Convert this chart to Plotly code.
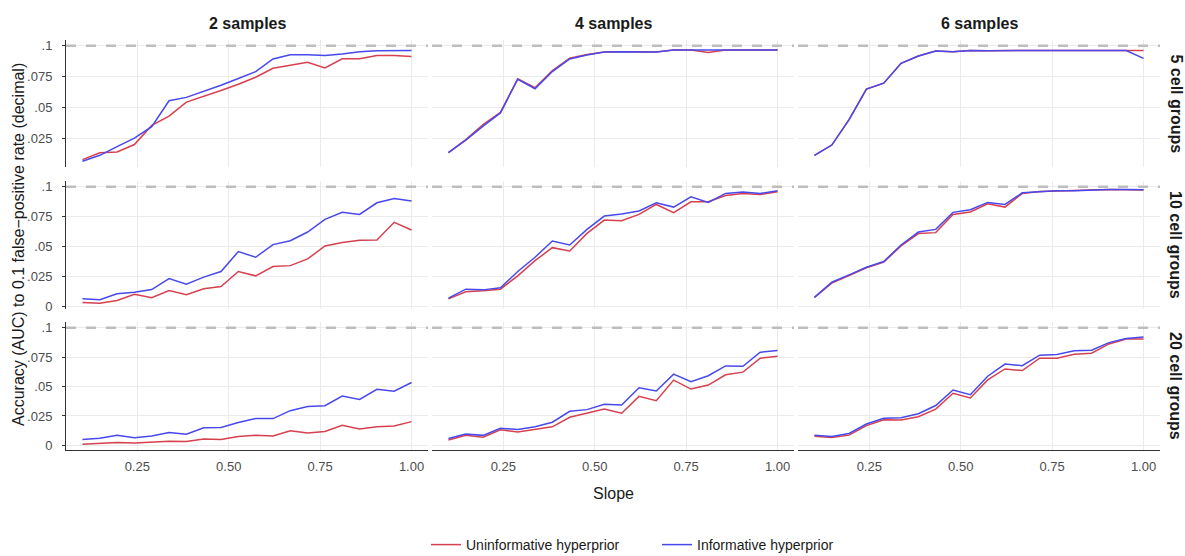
import plotly.graph_objects as go

# ---------------- data ----------------
slope = [0.1, 0.1474, 0.1947, 0.2421, 0.2895, 0.3368, 0.3842, 0.4316, 0.4789, 0.5263,
         0.5737, 0.6211, 0.6684, 0.7158, 0.7632, 0.8105, 0.8579, 0.9053, 0.9526, 1.0]

sample_labels = ["2 samples", "4 samples", "6 samples"]
group_labels = ["5 cell groups", "10 cell groups", "20 cell groups"]
series_names = ["Uninformative hyperprior", "Informative hyperprior"]

y_tick_vals = [0, 0.025, 0.05, 0.075, 0.1]
y_tick_text = ["0", ".025", ".05", ".075", ".1"]
x_tick_vals = [0.25, 0.5, 0.75, 1.0]
x_tick_text = ["0.25", "0.50", "0.75", "1.00"]
reference_level = 0.1

# 2 samples
s2_g5_uninf = [0.0078, 0.0134, 0.0140, 0.0200, 0.0355, 0.0430, 0.0544, 0.0590, 0.0638, 0.0689,
               0.0745, 0.0818, 0.0845, 0.0866, 0.0820, 0.0895, 0.0895, 0.0922, 0.0922, 0.0914]
s2_g5_inf = [0.0065, 0.0113, 0.0183, 0.0252, 0.0345, 0.0555, 0.0582, 0.0630, 0.0680, 0.0735,
             0.0791, 0.0893, 0.0928, 0.0928, 0.0922, 0.0933, 0.0952, 0.0960, 0.0961, 0.0962]
s2_g10_uninf = [0.0036, 0.0030, 0.0053, 0.0105, 0.0075, 0.0136, 0.0100, 0.0150, 0.0169, 0.0294,
                0.0258, 0.0335, 0.0343, 0.0399, 0.0507, 0.0535, 0.0554, 0.0557, 0.0704, 0.0640]
s2_g10_inf = [0.0066, 0.0058, 0.0108, 0.0122, 0.0144, 0.0235, 0.0188, 0.0247, 0.0294, 0.0460,
              0.0413, 0.0518, 0.0551, 0.0623, 0.0729, 0.0787, 0.0770, 0.0867, 0.0903, 0.0881]
s2_g20_uninf = [0.0010, 0.0020, 0.0025, 0.0020, 0.0030, 0.0035, 0.0033, 0.0055, 0.0050, 0.0075,
                0.0085, 0.0080, 0.0125, 0.0105, 0.0118, 0.0170, 0.0140, 0.0158, 0.0165, 0.0202]
s2_g20_inf = [0.0050, 0.0060, 0.0085, 0.0065, 0.0080, 0.0110, 0.0095, 0.0150, 0.0152, 0.0195,
              0.0228, 0.0228, 0.0295, 0.0330, 0.0337, 0.0420, 0.0390, 0.0477, 0.0460, 0.0535]

# 4 samples
s4_g5_uninf = [0.0134, 0.0240, 0.0362, 0.0460, 0.0733, 0.0660, 0.0800, 0.0900, 0.0930, 0.0950,
               0.0952, 0.0952, 0.0950, 0.0965, 0.0965, 0.0946, 0.0965, 0.0965, 0.0965, 0.0965]
s4_g5_inf = [0.0134, 0.0236, 0.0349, 0.0456, 0.0729, 0.0652, 0.0791, 0.0893, 0.0925, 0.0949,
             0.0952, 0.0952, 0.0949, 0.0965, 0.0965, 0.0960, 0.0965, 0.0965, 0.0965, 0.0965]
s4_g10_uninf = [0.0066, 0.0125, 0.0133, 0.0147, 0.0258, 0.0385, 0.0493, 0.0465, 0.0612, 0.0723,
                0.0717, 0.0770, 0.0853, 0.0784, 0.0875, 0.0875, 0.0928, 0.0945, 0.0936, 0.0958]
s4_g10_inf = [0.0072, 0.0147, 0.0141, 0.0158, 0.0294, 0.0413, 0.0548, 0.0515, 0.0645, 0.0756,
              0.0773, 0.0798, 0.0867, 0.0831, 0.0917, 0.0870, 0.0945, 0.0956, 0.0945, 0.0967]
s4_g20_uninf = [0.0045, 0.0085, 0.0070, 0.0132, 0.0113, 0.0135, 0.0158, 0.0239, 0.0276, 0.0310,
                0.0273, 0.0417, 0.0380, 0.0555, 0.0479, 0.0513, 0.0600, 0.0623, 0.0741, 0.0758]
s4_g20_inf = [0.0059, 0.0096, 0.0085, 0.0146, 0.0135, 0.0158, 0.0197, 0.0290, 0.0304, 0.0349,
              0.0344, 0.0490, 0.0462, 0.0606, 0.0541, 0.0592, 0.0676, 0.0673, 0.0792, 0.0806]

# 6 samples
s6_g5_uninf = [0.0113, 0.0196, 0.0402, 0.0649, 0.0697, 0.0858, 0.0917, 0.0957, 0.0952, 0.0962,
               0.0960, 0.0962, 0.0962, 0.0962, 0.0962, 0.0962, 0.0962, 0.0962, 0.0962, 0.0962]
s6_g5_inf = [0.0113, 0.0196, 0.0402, 0.0649, 0.0697, 0.0858, 0.0917, 0.0957, 0.0952, 0.0962,
             0.0960, 0.0962, 0.0962, 0.0962, 0.0962, 0.0962, 0.0962, 0.0962, 0.0962, 0.0898]
s6_g10_uninf = [0.0078, 0.0197, 0.0260, 0.0325, 0.0372, 0.0507, 0.0610, 0.0618, 0.0770, 0.0790,
                0.0859, 0.0831, 0.0945, 0.0960, 0.0966, 0.0967, 0.0974, 0.0977, 0.0977, 0.0974]
s6_g10_inf = [0.0078, 0.0205, 0.0266, 0.0330, 0.0377, 0.0515, 0.0623, 0.0645, 0.0787, 0.0809,
              0.0870, 0.0853, 0.0950, 0.0961, 0.0967, 0.0967, 0.0975, 0.0978, 0.0978, 0.0975]
s6_g20_uninf = [0.0078, 0.0067, 0.0087, 0.0168, 0.0218, 0.0216, 0.0244, 0.0308, 0.0443, 0.0403,
                0.0557, 0.0650, 0.0636, 0.0742, 0.0742, 0.0776, 0.0784, 0.0863, 0.0905, 0.0905]
s6_g20_inf = [0.0087, 0.0076, 0.0101, 0.0182, 0.0230, 0.0235, 0.0269, 0.0339, 0.0471, 0.0431,
              0.0588, 0.0692, 0.0678, 0.0767, 0.0773, 0.0804, 0.0810, 0.0874, 0.0910, 0.0922]

panels = [
    [(s2_g5_uninf, s2_g5_inf), (s4_g5_uninf, s4_g5_inf), (s6_g5_uninf, s6_g5_inf)],
    [(s2_g10_uninf, s2_g10_inf), (s4_g10_uninf, s4_g10_inf), (s6_g10_uninf, s6_g10_inf)],
    [(s2_g20_uninf, s2_g20_inf), (s4_g20_uninf, s4_g20_inf), (s6_g20_uninf, s6_g20_inf)],
]

# ---------------- style / layout ----------------
W, H = 1185, 556
ML, MR, MT, MB = 66, 25, 40, 106
PW, PH = W - ML - MR, H - MT - MB
col_px = [(66, 428), (432, 794), (798, 1160)]
row_px = [(40, 167), (181, 309), (322, 450)]
RED = "#D6404F"
BLUE = "#4848EC"
FONT = "Liberation Sans, Arial, sans-serif"
colors = [RED, BLUE]

def xdom(c):
    a, b = col_px[c]
    return [(a - ML) / PW, (b - ML) / PW]

def ydom(r):
    a, b = row_px[r]
    return [(MT + PH - b) / PH, (MT + PH - a) / PH]

fig = go.Figure()
layout = dict(
    width=W, height=H,
    margin=dict(l=ML, r=MR, t=MT, b=MB, autoexpand=False),
    plot_bgcolor="white", paper_bgcolor="white",
    font=dict(family=FONT, size=13, color="#1A1A1A"),
    showlegend=True,
)

xr = [0.055, 1.045]
shapes = []
annotations = []
for r in range(3):
    row_vals = [v for c in range(3) for s in panels[r][c] for v in s] + [reference_level]
    lo, hi = min(row_vals), max(row_vals)
    pad = (hi - lo) * 0.05
    yr = [lo - pad, hi + pad]
    for c in range(3):
        idx = r * 3 + c + 1
        sfx = "" if idx == 1 else str(idx)
        for k in range(2):
            fig.add_trace(go.Scatter(
                x=slope, y=panels[r][c][k], mode="lines",
                line=dict(color=colors[k], width=1.5),
                name=series_names[k], legendgroup=series_names[k],
                showlegend=(idx == 1), hoverinfo="skip",
                xaxis="x" + sfx, yaxis="y" + sfx,
            ))
        bottom = r == 2
        left = c == 0
        layout["xaxis" + sfx] = dict(
            domain=xdom(c), anchor="y" + sfx, range=xr,
            tickvals=x_tick_vals, ticktext=x_tick_text,
            showticklabels=bottom, showgrid=True, gridcolor="#EBEBEB", gridwidth=1,
            zeroline=False, showline=bottom, linecolor="#333333", linewidth=1,
            ticks="", ticklabelstandoff=4, tickfont=dict(size=13, color="#4D4D4D"),
        )
        layout["yaxis" + sfx] = dict(
            domain=ydom(r), anchor="x" + sfx, range=yr,
            tickvals=y_tick_vals, ticktext=y_tick_text,
            showticklabels=left, showgrid=True, gridcolor="#EBEBEB", gridwidth=1,
            zeroline=False, showline=left, linecolor="#333333", linewidth=1,
            ticks="outside" if left else "", ticklen=3, tickcolor="#333333",
            ticklabelstandoff=7,
            tickfont=dict(size=13, color="#4D4D4D"),
        )
        shapes.append(dict(
            type="line", xref="x" + sfx, x0=xr[0], x1=xr[1],
            yref="y" + sfx, y0=reference_level, y1=reference_level,
            line=dict(color="#BEBEBE", width=2.5, dash="10px,10px"),
            layer="above",
        ))

for c in range(3):
    d = xdom(c)
    annotations.append(dict(
        text="<b>%s</b>" % sample_labels[c], xref="paper", yref="paper",
        x=(d[0] + d[1]) / 2, y=1 + (MT - 24) / PH, xanchor="center", yanchor="middle",
        showarrow=False, font=dict(size=16, color="#1A1A1A"),
    ))
for r in range(3):
    d = ydom(r)
    annotations.append(dict(
        text="<b>%s</b>" % group_labels[r], xref="paper", yref="paper",
        x=(1176 - ML) / PW, y=(d[0] + d[1]) / 2, xanchor="center", yanchor="middle",
        textangle=90, showarrow=False, font=dict(size=16, color="#1A1A1A"),
    ))
annotations.append(dict(
    text="Accuracy (AUC) to 0.1 false\u2212positive rate (decimal)",
    xref="paper", yref="paper", x=(18 - ML) / PW, y=0.5,
    xanchor="center", yanchor="middle", textangle=-90, showarrow=False,
    font=dict(size=16, color="#1A1A1A"),
))
annotations.append(dict(
    text="Slope", xref="paper", yref="paper", x=0.5, y=-(493 - (MT + PH)) / PH,
    xanchor="center", yanchor="middle", showarrow=False,
    font=dict(size=16, color="#1A1A1A"),
))

layout["shapes"] = shapes
layout["annotations"] = annotations
layout["legend"] = dict(
    orientation="h", x=(657 - ML) / PW, xanchor="center",
    y=-(545 - (MT + PH)) / PH, yanchor="middle",
    font=dict(size=14, color="#1A1A1A"), bgcolor="rgba(0,0,0,0)",
    itemwidth=30, entrywidth=186, entrywidthmode="pixels",
)
fig.update_layout(**layout)
fig.write_html(
    "out.html",
    config={"displayModeBar": False},
    post_script="document.body.style.margin='0';document.body.style.overflow='hidden';",
)
